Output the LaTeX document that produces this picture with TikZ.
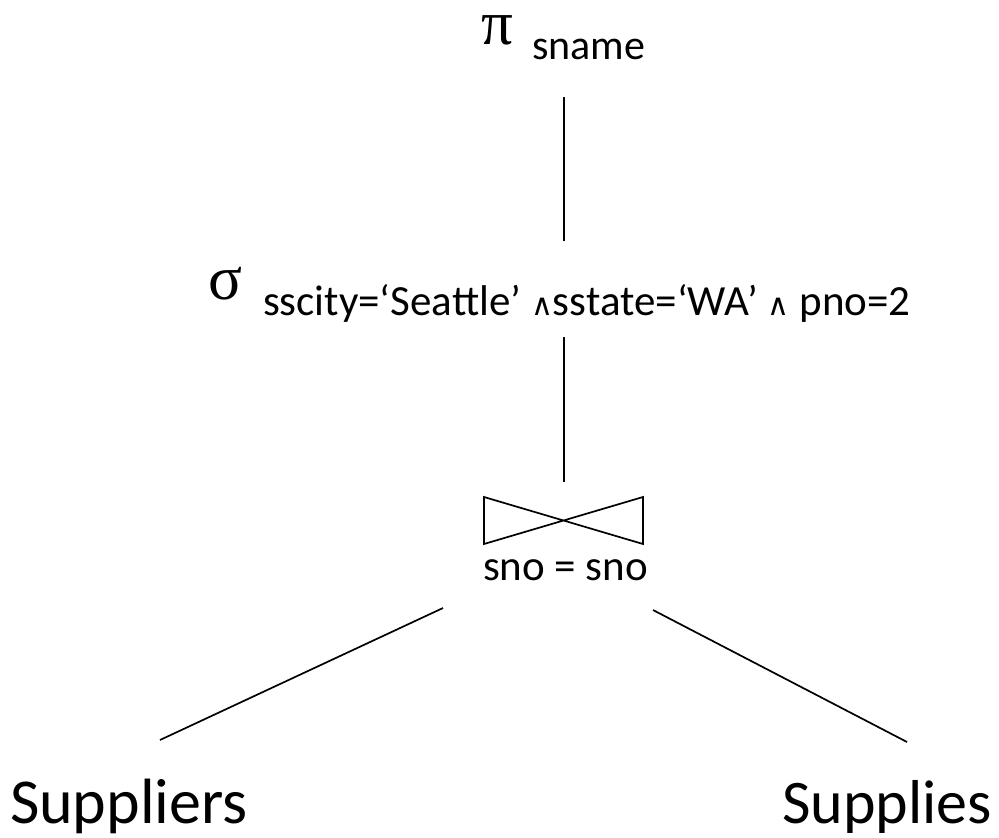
\documentclass[tikz,border=0pt]{standalone}
\usepackage{fontspec}
\setmainfont{Carlito}
\newfontfamily\greekfont{Liberation Serif}
\newfontfamily\symfont{DejaVu Sans}
\newcommand{\andsym}{{\symfont\fontsize{30}{30}\selectfont∧}}
\begin{document}
\begin{tikzpicture}[x=1pt,y=-1pt,
  txt/.style={anchor=base west,inner sep=0pt,outer sep=0pt},
  greek/.style={txt,text height=34pt,text depth=0pt,font=\greekfont\fontsize{63}{63}\selectfont},
  sub/.style={txt,font=\fontsize{42}{42}\selectfont},
  leaf/.style={txt,font=\fontsize{64}{64}\selectfont},
  edge/.style={line width=1.7pt,black}]
\useasboundingbox (0,0) rectangle (999,838);
% projection
\node[greek] (pi) at (481,44) {π};
\node[sub] (sname) at (532,59) {sname};
% selection
\node[greek] (sigma) at (208,299) {σ};
\node[sub,font=\fontsize{43}{43}\selectfont] (cond) at (263,315) {sscity=‘Seattle’ \andsym sstate=‘WA’ \andsym\ pno=2};
% join
\coordinate (tl) at (484,497);
\coordinate (bl) at (484,544);
\coordinate (tr) at (643,497);
\coordinate (br) at (643,544);
\draw[edge,line join=miter] (tl) -- (br) -- (tr) -- (bl) -- cycle;
\node[sub,font=\fontsize{43}{43}\selectfont] (joincond) at (483,580) {sno = sno};
% leaves
\node[leaf] (suppliers) at (10,823) {Suppliers};
\node[leaf,font=\fontsize{62}{62}\selectfont] (supplies) at (782,823) {Supplies};
% connectors
\coordinate (a1) at (564,97);
\coordinate (a2) at (564,241);
\coordinate (b1) at (564,337);
\coordinate (b2) at (564,482);
\coordinate (c1) at (443,608);
\coordinate (c2) at (160,740);
\coordinate (d1) at (653,610);
\coordinate (d2) at (907,742);
\draw[edge] (a1) -- (a2);
\draw[edge] (b1) -- (b2);
\draw[edge] (c1) -- (c2);
\draw[edge] (d1) -- (d2);
\end{tikzpicture}
\end{document}
